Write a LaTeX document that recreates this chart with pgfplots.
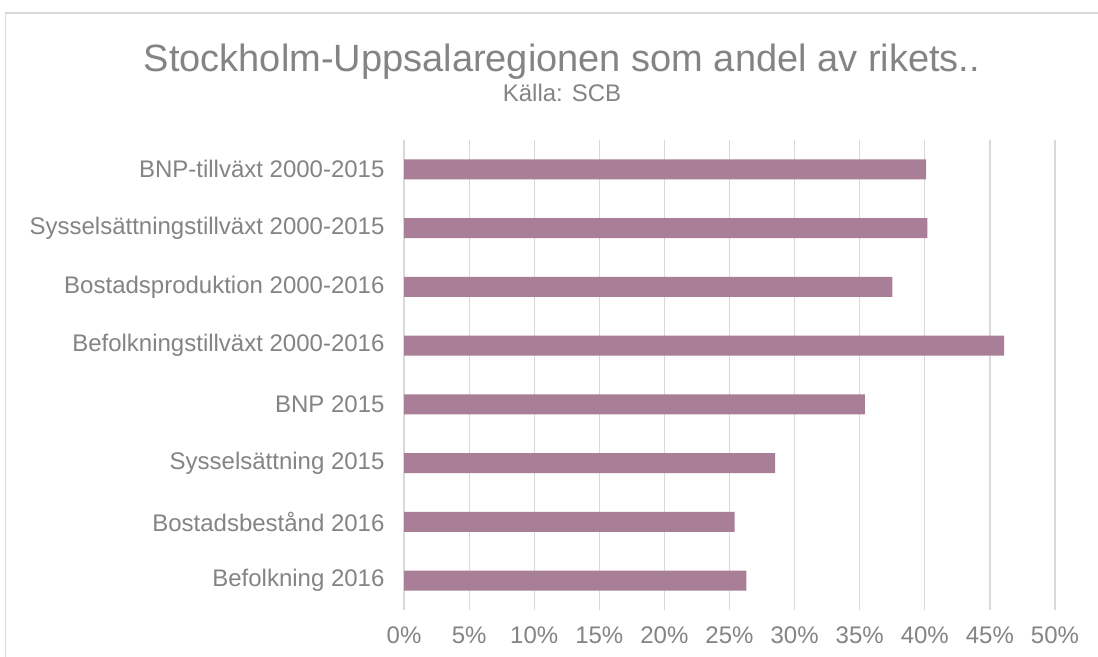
\documentclass[border=0pt]{standalone}
\usepackage{pgfplots}
\pgfplotsset{compat=1.18}
\usepackage{fontspec}
\setmainfont{Liberation Sans}
\definecolor{barc}{HTML}{A87F96}
\definecolor{txt}{HTML}{848484}
\definecolor{gridc}{HTML}{D9D9D9}
\begin{document}
\begin{tikzpicture}[x=1bp,y=1bp]
\useasboundingbox (0,0) rectangle (1098,657);
\fill[white] (0,0) rectangle (1098,657);
\draw[gridc, line width=1.2bp] (5.5,-20) -- (5.5,644) -- (1130,644);
\node[text=txt, font=\fontsize{38bp}{44bp}\selectfont] at (562,595) {Stockholm-Uppsalaregionen som andel av rikets..};
\node[text=txt, font=\fontsize{24bp}{30bp}\selectfont] at (562,564) {Källa: SCB};
\begin{axis}[
  at={(404bp,47bp)}, anchor=south west,
  width=651bp, height=470bp, scale only axis,
  xbar, bar width=20bp,
  xmin=0, xmax=50, ymin=-0.5, ymax=7.5,
  axis line style={draw=none},
  xtick={0,5,...,50},
  xticklabel={\pgfmathprintnumber{\tick}\%},
  ytick={0,...,7},
  yticklabels={Befolkning 2016,Bostadsbestånd 2016,Sysselsättning 2015,BNP 2015,Befolkningstillväxt 2000-2016,Bostadsproduktion 2000-2016,Sysselsättningstillväxt 2000-2015,BNP-tillväxt 2000-2015},
  major tick length=0pt,
  xmajorgrids, grid style={gridc, line width=1.2bp},
  ticklabel style={text=txt, font=\fontsize{24bp}{28bp}\selectfont},
  xticklabel style={yshift=-13bp},
  yticklabel style={xshift=-16bp},
  /pgf/number format/assume math mode=true,
  clip=false,
]
\addplot[fill=barc, draw=none] coordinates {
(26.3,0) (25.4,1) (28.5,2) (35.4,3) (46.1,4) (37.5,5) (40.2,6) (40.1,7)};
\end{axis}
\end{tikzpicture}
\end{document}
